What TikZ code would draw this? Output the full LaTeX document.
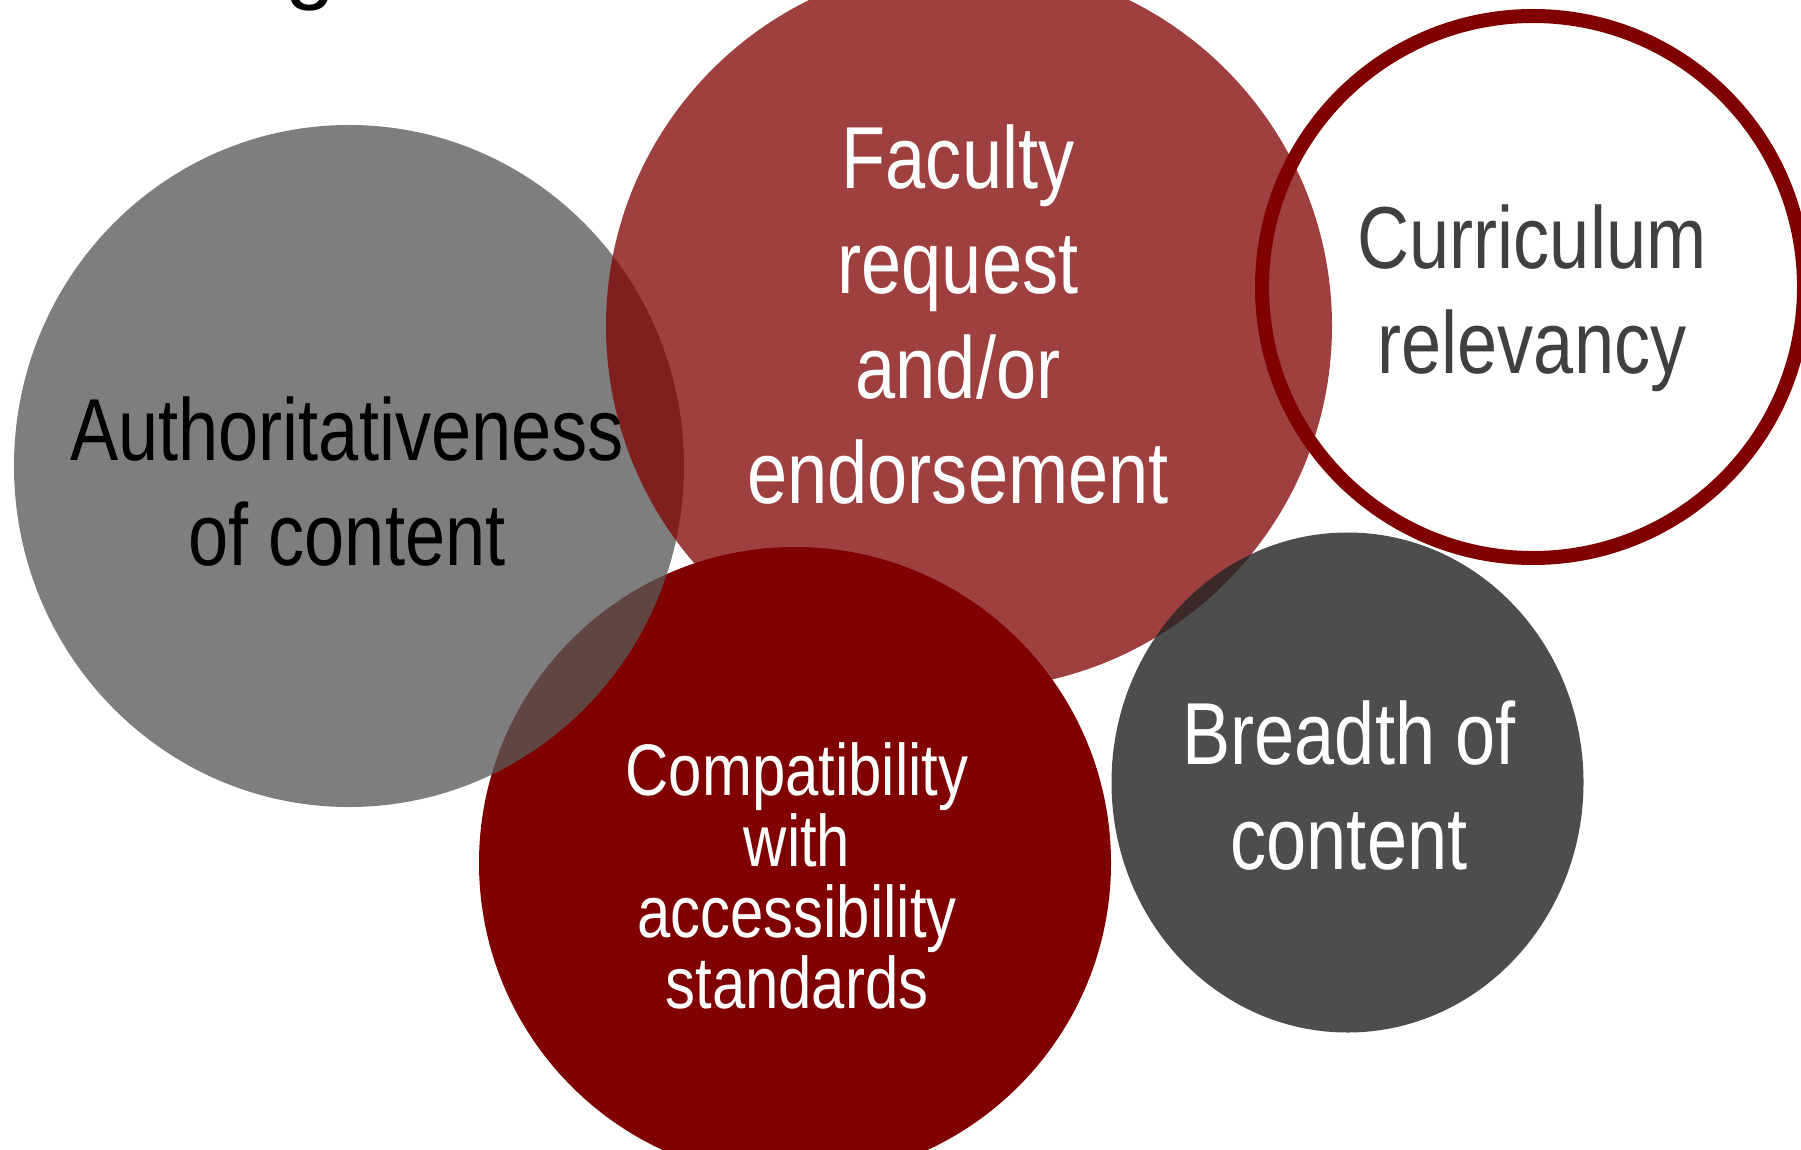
\documentclass[tikz,border=0pt]{standalone}
\usepackage{fontspec}
\usetikzlibrary{shapes.geometric}
\newfontfamily\narrowfont[FakeStretch=0.82]{Liberation Sans}
\newfontfamily\titlefont{Liberation Sans}
\definecolor{maroonc}{RGB}{128,0,0}
\definecolor{graya}{RGB}{89,89,89}
\definecolor{grayb}{RGB}{37,37,37}
\definecolor{textgray}{RGB}{64,64,64}
\tikzset{
  blob/.style={circle, inner sep=0pt, outer sep=0pt, draw=none},
  oval/.style={ellipse, inner sep=0pt, outer sep=0pt, draw=none},
  bigtxt/.style={align=center, anchor=base, inner sep=0pt,
    font=\narrowfont\fontsize{88}{105}\selectfont},
  smalltxt/.style={align=center, anchor=base, inner sep=0pt,
    font=\narrowfont\fontsize{73}{71}\selectfont}
}
\begin{document}
\begin{tikzpicture}[x=1pt,y=-1pt]
\useasboundingbox (0,0) rectangle (1801,1150);
\clip (0,0) rectangle (1801,1150);
\fill[white] (0,0) rectangle (1801,1150);
% title fragment
\node[font=\titlefont\fontsize{90}{90}\selectfont, anchor=base, inner sep=0pt] (title) at (311,-7) {g};
% circles
\node[blob, fill=maroonc, minimum size=632pt] (compat) at (795,863) {};
\node[oval, fill=graya, fill opacity=0.773, minimum width=670pt, minimum height=682pt] (auth) at (349,466) {};
\node[blob, fill=maroonc, fill opacity=0.75, minimum size=726pt] (fac) at (969,326) {};
\node[oval, fill=grayb, fill opacity=0.817,
  minimum width=472pt, minimum height=500pt] (breadth) at (1347.5,782.5) {};
\node[blob, draw=maroonc, line width=14pt, minimum size=542pt] (curr) at (1533,287) {};
% texts (anchor base = baseline of the last line)
\node[bigtxt, text=black] (authtxt) at (347,565) {Authoritativeness\\of content};
\node[bigtxt, text=white] (factxt) at (958,503) {Faculty\\request\\and/or\\endorsement};
\node[bigtxt, text=textgray] (currtxt) at (1532,373) {Curriculum\\relevancy};
\node[bigtxt, text=white] (breadthtxt) at (1349,869) {Breadth of\\content};
\node[smalltxt, text=white] (compattxt) at (797,1008) {Compatibility\\with\\accessibility\\standards};
\end{tikzpicture}
\end{document}
